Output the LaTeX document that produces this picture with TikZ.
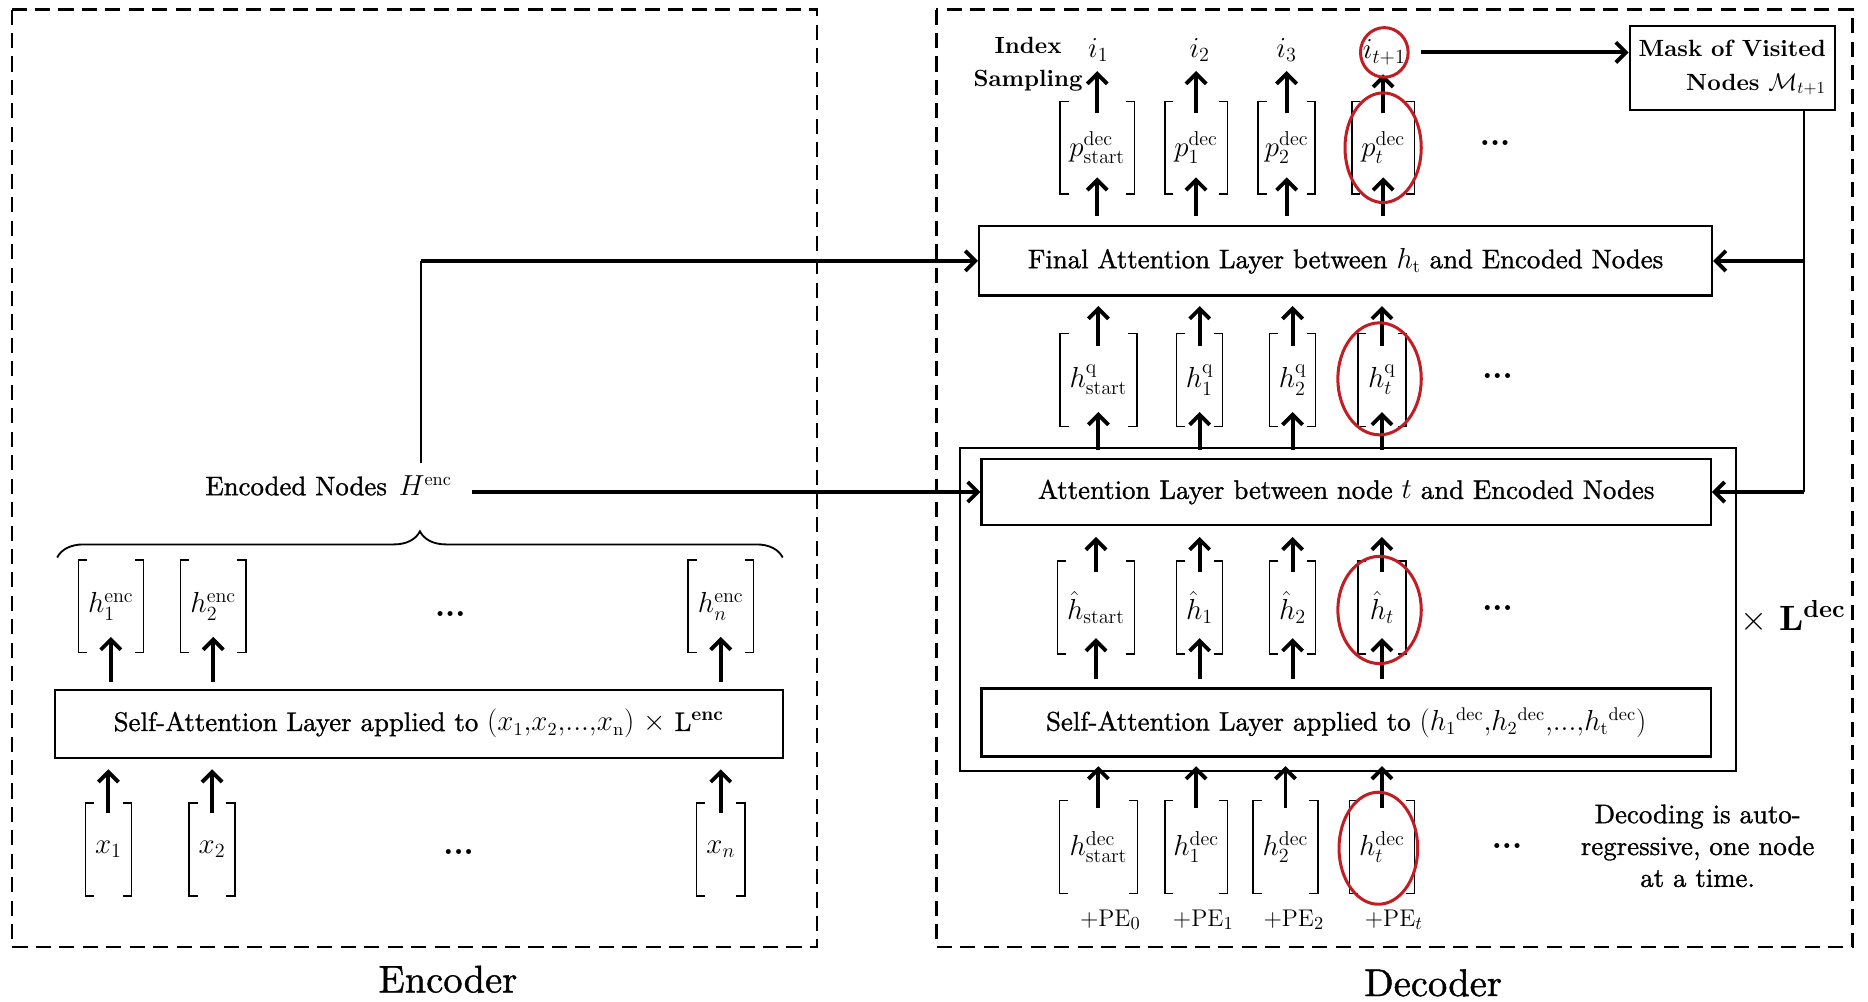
\documentclass[tikz,border=0pt]{standalone}
\usepackage{amsmath, amssymb}
\usepackage[no-math]{fontspec}
\setmainfont{lmroman10-regular.otf}[
  BoldFont=lmroman10-bold.otf,
  ItalicFont=lmroman10-italic.otf,
  UprightFeatures={FakeBold=1.1}]
\usepackage{xcolor}
\usepackage{tikz}
\usetikzlibrary{arrows.meta, positioning, decorations.pathreplacing, calc}

\definecolor{ringred}{RGB}{192,30,36}

\begin{document}
\begin{tikzpicture}[
    x=0.025cm, y=-0.025cm,
    arr/.style={-{Straight Barb[length=6pt, width=12pt]}, line width=2.3pt},
    thinline/.style={line width=1.2pt},
    panel/.style={line width=1.4pt, dash pattern=on 9pt off 5pt},
    layer/.style={draw, line width=1.3pt, inner sep=2pt, font=\fontsize{16}{19}\selectfont},
    vec/.style={minimum width=#1, minimum height=1.93cm, inner sep=0pt, font=\fontsize{17}{20}\selectfont},
    vec/.default=1cm,
    brk/.style={line width=0.9pt},
    lbl/.style={font=\fontsize{16}{19}\selectfont},
    mlbl/.style={inner sep=2pt, font=\fontsize{15}{18}\selectfont},
    blbl/.style={font=\fontsize{14}{20}\selectfont\bfseries},
    dots/.style={font=\fontsize{19}{20}\selectfont\bfseries},
    ring/.style={ringred, line width=1.8pt},
    brace/.style={decorate, decoration={brace, amplitude=0.55cm}, line width=1.1pt}
  ]
  \useasboundingbox (0,0) rectangle (1568,841);

  % frames
  \draw[panel] (10,8) rectangle (686,795);
  \draw[panel] (786,8) rectangle (1555,795);
  \node[font=\fontsize{23}{28}\selectfont] (enclbl) at (376,822) {Encoder};
  \node[font=\fontsize{23}{28}\selectfont] (declbl) at (1203,825) {Decoder};

  % encoder
  \node[vec=0.95cm] (x1) at (91,713) {$x_1$};
  \node[vec=0.95cm] (x2) at (178,713) {$x_2$};
  \node[vec=1.0cm] (xn) at (605,713) {$x_n$};
  \node[dots] (xdots) at (385,715) {...};
  \node[layer, minimum width=15.275cm, minimum height=1.425cm] (encsa) at (351.5,607.5)
    {Self-Attention Layer applied to $(x_1{,}x_2{,}{.}{.}{.}{,}x_{\mathrm{n}})$ $\times$ L$^{\textbf{enc}}$};
  \node[vec=1.35cm] (he1) at (93,509) {$h^{\mathrm{enc}}_1$};
  \node[vec=1.35cm] (he2) at (179,509) {$h^{\mathrm{enc}}_2$};
  \node[vec=1.35cm] (hen) at (605,509) {$h^{\mathrm{enc}}_n$};
  \node[dots] (hedots) at (378,515) {...};
  \draw[brace] (48,468) -- (657,468);
  \node[lbl] (Henc) at (357,408) {$H^{\mathrm{enc}}$};
  \node[lbl, left=0pt of Henc] (enctext) {Encoded Nodes};

  % decoder
  \node[blbl, align=center] (sampling) at (863,54) {Index\\Sampling};
  \node[mlbl, font=\fontsize{17}{20}\selectfont] (i1) at (922,42) {$i_1$};
  \node[mlbl, font=\fontsize{17}{20}\selectfont] (i2) at (1007,42) {$i_2$};
  \node[mlbl, font=\fontsize{17}{20}\selectfont] (i3) at (1080,42) {$i_3$};
  \node[mlbl, font=\fontsize{17}{20}\selectfont] (it1) at (1162,44) {$i_{t+1}$};
  \node[draw, line width=1.3pt, blbl, align=right, minimum width=4.3cm, minimum height=1.75cm]
    (mask) at (1454,57) {Mask of Visited\\Nodes $\mathcal{M}_{t+1}$};

  \node[vec=1.55cm] (ps) at (921,124) {$p^{\mathrm{dec}}_{\mathrm{start}}$};
  \node[vec=1.3cm] (p1) at (1004,124) {$p^{\mathrm{dec}}_1$};
  \node[vec=1.18cm] (p2) at (1080,124) {$p^{\mathrm{dec}}_2$};
  \node[vec=1.3cm] (pt) at (1161,124) {$p^{\mathrm{dec}}_t$};
  \node[dots] (pdots) at (1255,120) {...};

  \node[layer, minimum width=15.375cm, minimum height=1.45cm] (final) at (1129.5,219)
    {Final Attention Layer between $h_{\mathrm{t}}$ and Encoded Nodes};

  \node[vec=1.6cm] (qs) at (922,319) {$h^{\mathrm{q}}_{\mathrm{start}}$};
  \node[vec=0.95cm] (q1) at (1007,319) {$h^{\mathrm{q}}_1$};
  \node[vec=0.95cm] (q2) at (1085,319) {$h^{\mathrm{q}}_2$};
  \node[vec=1.0cm] (qt) at (1160,319) {$h^{\mathrm{q}}_t$};
  \node[dots] (qdots) at (1257,316) {...};

  \draw[line width=1.3pt] (806,376) rectangle (1457,647);
  \node[font=\fontsize{21}{24}\selectfont] (ldec) at (1505,518) {$\times$ \textbf{L}$^{\textbf{dec}}$};

  \node[layer, minimum width=15.3cm, minimum height=1.4cm] (attn) at (1130,413)
    {Attention Layer between node $t$ and Encoded Nodes};

  \node[vec=1.6cm] (hs) at (920,510) {$\hat{h}_{\mathrm{start}}$};
  \node[vec=0.95cm] (h1) at (1007,510) {$\hat{h}_1$};
  \node[vec=0.95cm] (h2) at (1085,510) {$\hat{h}_2$};
  \node[vec=1.0cm] (ht) at (1160,510) {$\hat{h}_t$};
  \node[dots] (hdots) at (1257,510) {...};

  \node[layer, minimum width=15.3cm, minimum height=1.425cm] (decsa) at (1130,606.5)
    {Self-Attention Layer applied to $(h_1{}^{\mathrm{dec}}{,}h_2{}^{\mathrm{dec}}{,}{.}{.}{.}{,}h_{\mathrm{t}}{}^{\mathrm{dec}})$};

  \node[vec=1.62cm] (ds) at (922,711) {$h^{\mathrm{dec}}_{\mathrm{start}}$};
  \node[vec=1.3cm] (d1) at (1004,711) {$h^{\mathrm{dec}}_1$};
  \node[vec=1.35cm] (d2) at (1079,711) {$h^{\mathrm{dec}}_2$};
  \node[vec=1.35cm] (dt) at (1160,711) {$h^{\mathrm{dec}}_t$};
  \node[dots] (ddots) at (1265,710) {...};

  \node[mlbl] (pe0) at (932,772) {$+\mathrm{PE}_0$};
  \node[mlbl] (pe1) at (1010,772) {$+\mathrm{PE}_1$};
  \node[mlbl] (pe2) at (1086,772) {$+\mathrm{PE}_2$};
  \node[mlbl] (pet) at (1170,772) {$+\mathrm{PE}_t$};
  \node[lbl, align=center] (note) at (1425,710) {Decoding is auto-\\regressive, one node\\at a time.};

  % brackets round the vectors
  \foreach \n in {x1,x2,xn,he1,he2,hen,ps,p1,p2,pt,qs,q1,q2,qt,hs,h1,h2,ht,ds,d1,d2,dt}{
    \draw[brk] ([xshift=0.18cm]\n.north west) -| (\n.south west) -- ++(0.18cm,0);
    \draw[brk] ([xshift=-0.18cm]\n.north east) -| (\n.south east) -- ++(-0.18cm,0);
  }

  % vertical flow
  \foreach \n in {x1,x2,xn}
    \draw[arr, shorten <=-0.2cm, shorten >=0.22cm] (\n.north) -- (\n.north |- encsa.south);
  \foreach \n in {he1,he2,hen}
    \draw[arr, shorten <=0.15cm, shorten >=-0.33cm] (\n.south |- encsa.north) -- (\n.south);
  \foreach \n in {ds,d1,d2,dt}
    \draw[arr, shorten <=-0.15cm, shorten >=0.18cm] (\n.north) -- (\n.north |- decsa.south);
  \foreach \n in {hs,h1,h2,ht}{
    \draw[arr, shorten <=0.17cm, shorten >=-0.33cm] (\n.south |- decsa.north) -- (\n.south);
    \draw[arr, shorten <=-0.22cm, shorten >=0.22cm] (\n.north) -- (\n.north |- attn.south);
  }
  \foreach \n in {qs,q1,q2,qt}{
    \draw[arr, shorten <=0.15cm, shorten >=-0.3cm] (\n.south |- attn.north) -- (\n.south);
    \draw[arr, shorten <=-0.25cm, shorten >=0.2cm] (\n.north) -- (\n.north |- final.south);
  }
  \foreach \n in {ps,p1,p2,pt}
    \draw[arr, shorten <=0.2cm, shorten >=-0.35cm] (\n.south |- final.north) -- (\n.south);
  \foreach \n/\i in {ps/i1,p1/i2,p2/i3,pt/it1}
    \draw[arr, shorten <=-0.25cm, shorten >=0.12cm] (\n.north) -- (\n.north |- \i.south);

  % encoded nodes into the decoder
  \coordinate (bend) at (353,219);
  \draw[thinline, shorten <=0.15cm] (bend |- Henc.north) -- (bend);
  \draw[arr] (bend) -- (final.west);
  \draw[arr, shorten <=0.3cm] (Henc.east |- attn.west) -- (attn.west);

  % mask feedback
  \draw[arr, shorten <=0.25cm] (it1.east) -- (it1.east -| mask.west);
  \coordinate (mk) at (1514,92);
  \draw[thinline] (mk) -- (mk |- attn.east);
  \draw[arr] (mk |- final.east) -- (final.east);
  \draw[arr] (mk |- attn.east) -- (attn.east);

  % current step
  \draw[ring] (1162,44) ellipse [x radius=0.5cm, y radius=0.52cm];
  \draw[ring] (1161,124) ellipse [x radius=0.8cm, y radius=1.15cm];
  \draw[ring] (1158,318) ellipse [x radius=0.875cm, y radius=1.175cm];
  \draw[ring] (1158,512) ellipse [x radius=0.875cm, y radius=1.125cm];
  \draw[ring] (1157,712) ellipse [x radius=0.825cm, y radius=1.175cm];
\end{tikzpicture}
\end{document}
